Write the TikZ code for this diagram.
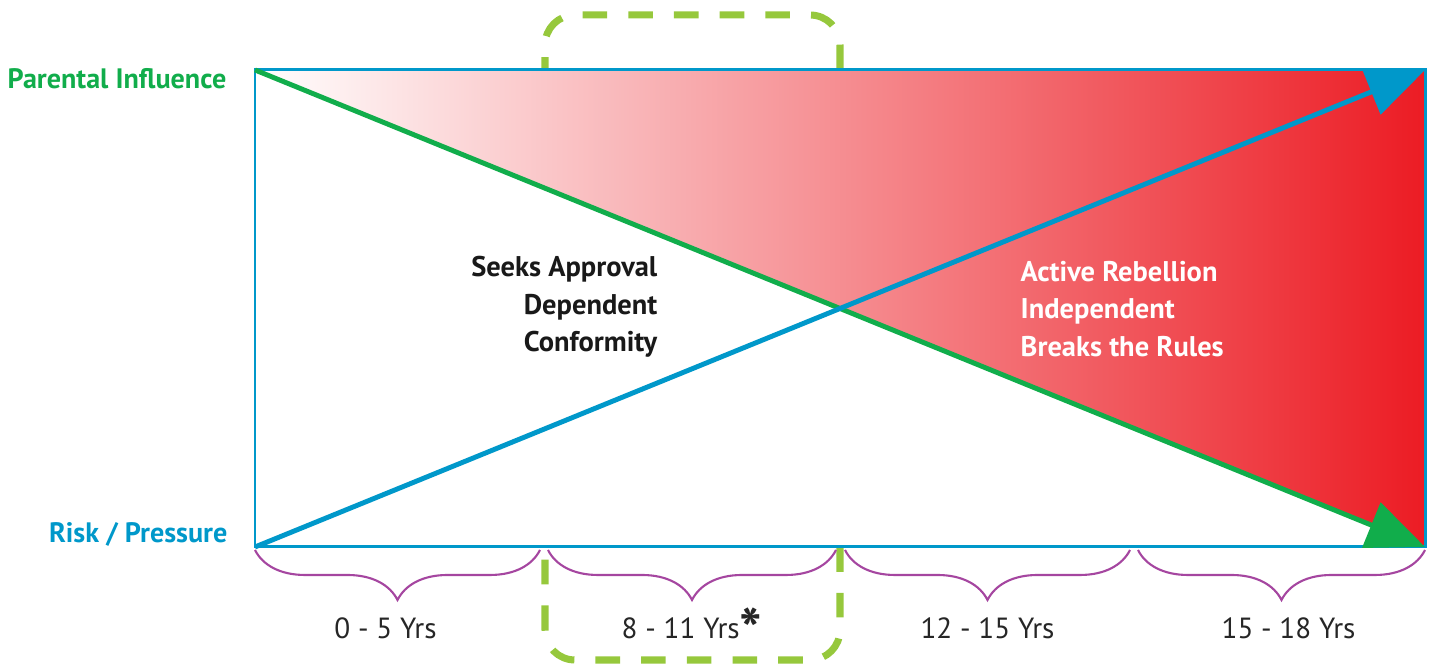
\documentclass[tikz,border=0pt]{standalone}
\usepackage{fontspec}
\setmainfont{PT Sans}
\usetikzlibrary{arrows.meta,decorations.pathreplacing,positioning}

\definecolor{riskblue}{RGB}{0,152,202}
\definecolor{parentgreen}{RGB}{17,173,75}
\definecolor{dashgreen}{RGB}{150,200,60}
\definecolor{rebelred}{RGB}{236,28,36}
\definecolor{bracepurple}{RGB}{165,70,160}

\tikzset{
  age brace/.style={draw=bracepurple, line width=0.6pt, decorate,
    decoration={brace, mirror, amplitude=0.5cm}},
  age label/.style={font=\fontsize{8.3}{10}\selectfont, text=black!85},
  side label/.style={font=\fontsize{8}{9}\selectfont\bfseries, anchor=east,
    inner sep=0pt},
  stage text/.style={font=\fontsize{8.1}{10.7}\selectfont\bfseries, inner sep=0pt},
}

\begin{document}
\begin{tikzpicture}
  \useasboundingbox (0,0) rectangle (14.32,6.65);

  % corners of the chart
  \coordinate (top left) at (2.55,5.95);
  \coordinate (top right) at (14.25,5.95);
  \coordinate (bottom left) at (2.55,1.18);
  \coordinate (bottom right) at (14.25,1.18);

  % highlighted age band
  \draw [dashgreen, line width=2pt, dash pattern=on 7pt off 6pt,
    rounded corners=0.3cm]
    (5.45,0.05) rectangle (8.40,6.50)
  ;
  \fill [white] (top left) rectangle (bottom right);

  \shade [left color=white, right color=rebelred]
    (top left) -- (top right) -- (bottom right) -- cycle
  ;
  \draw [riskblue, line width=0.85pt]
    (top left) rectangle (bottom right)
  ;

  \draw [parentgreen, line width=1.4pt,
    -{Triangle[length=0.58cm, width=0.48cm]}]
    (top left) -- (bottom right)
  ;
  \draw [riskblue, line width=1.4pt,
    -{Triangle[length=0.58cm, width=0.48cm]}]
    (bottom left) -- (top right)
  ;

  \node (parental) [side label, text=parentgreen] at (2.27,5.86) {Parental Influence};
  \node (risk) [side label, text=riskblue] at (2.28,1.31) {Risk / Pressure};

  \node (seeks) [stage text, anchor=east, align=right, text=black!90]
    at (6.58,3.58) {Seeks Approval\\Dependent\\Conformity};
  \node (rebel) [stage text, anchor=west, align=left, text=white]
    at (10.20,3.56) {Active Rebellion\\Independent\\Breaks the Rules};

  % age braces
  \draw [age brace] (2.55,1.15) -- (5.40,1.15)
    node (age a) [age label, midway, below=0.55cm, xshift=-0.12cm] {0 - 5 Yrs};
  \draw [age brace] (5.48,1.15) -- (8.36,1.15)
    node (age b) [age label, midway, below=0.55cm]
      {8 - 11 Yrs\smash{\raisebox{-3.7pt}{\fontsize{17}{17}\selectfont\bfseries *}}};
  \draw [age brace] (8.45,1.15) -- (11.30,1.15)
    node (age c) [age label, midway, below=0.55cm] {12 - 15 Yrs};
  \draw [age brace] (11.38,1.15) -- (14.25,1.15)
    node (age d) [age label, midway, below=0.55cm, xshift=0.07cm] {15 - 18 Yrs};
\end{tikzpicture}
\end{document}
